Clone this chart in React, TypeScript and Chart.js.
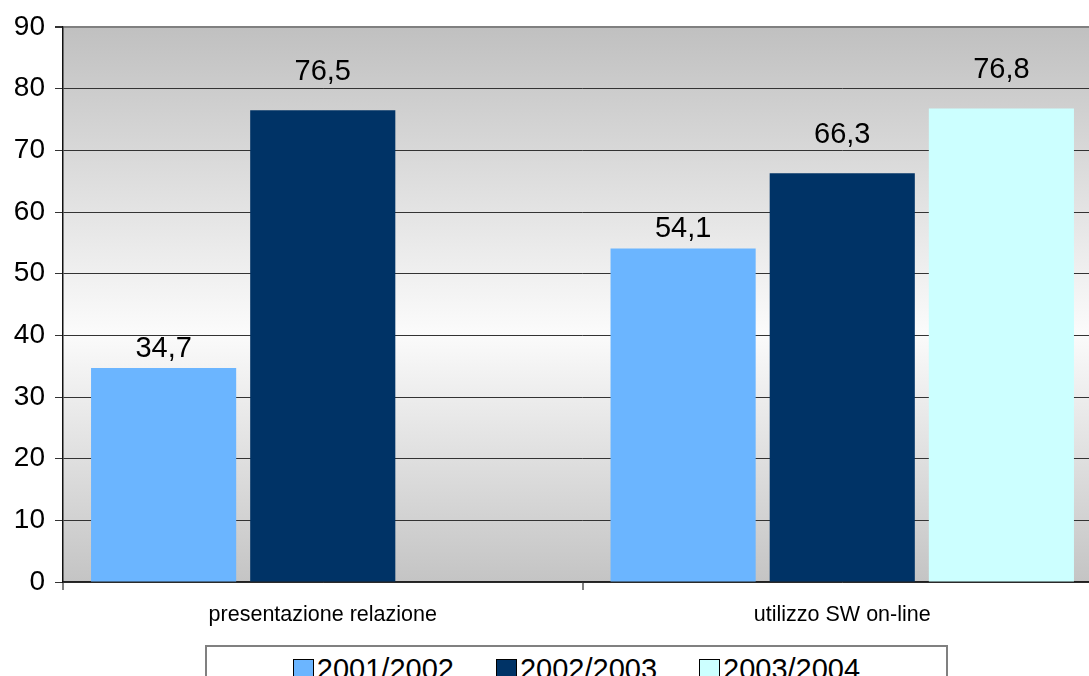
import React, { useEffect, useRef } from "react";
import { Chart, registerables } from "chart.js";

Chart.register(...registerables);

const categories = ["presentazione relazione", "utilizzo SW on-line"];
const seriesNames = ["2001/2002", "2002/2003", "2003/2004"];
const values2001 = [34.7, 54.1];
const values2002 = [76.5, 66.3];
const values2003: (number | null)[] = [null, 76.8];
const seriesColors = ["#6bb5ff", "#003366", "#ccffff"];
const labelOffsets = [19, 38, 38];
const yTicks = { min: 0, max: 90, step: 10 };

const FONT = "'Liberation Sans', Arial, sans-serif";

const fmt = (v: number) => v.toFixed(1).replace(".", ",");

const bgPlugin = {
  id: "bgGradient",
  beforeDraw(chart: any) {
    const { ctx, chartArea } = chart;
    if (!chartArea) return;
    const g = ctx.createLinearGradient(0, chartArea.top, 0, chartArea.bottom);
    g.addColorStop(0, "#c0c0c0");
    g.addColorStop(0.55, "#fbfbfb");
    g.addColorStop(1, "#c4c4c4");
    ctx.save();
    ctx.fillStyle = g;
    ctx.fillRect(chartArea.left, chartArea.top, chartArea.right - chartArea.left, chartArea.bottom - chartArea.top);
    ctx.restore();
  },
};

const labelPlugin = {
  id: "valueLabels",
  afterDatasetsDraw(chart: any) {
    const { ctx } = chart;
    ctx.save();
    ctx.font = `29px ${FONT}`;
    ctx.fillStyle = "#000";
    ctx.textAlign = "center";
    ctx.textBaseline = "middle";
    chart.data.datasets.forEach((ds: any, i: number) => {
      const meta = chart.getDatasetMeta(i);
      meta.data.forEach((el: any, j: number) => {
        const v = ds.data[j];
        if (v === null || v === undefined) return;
        ctx.fillText(fmt(v), el.x, el.y - labelOffsets[i]);
      });
    });
    ctx.restore();
  },
};

export default function App() {
  const ref = useRef<HTMLCanvasElement>(null);

  useEffect(() => {
    if (!ref.current) return;
    const chart = new Chart(ref.current, {
      type: "bar",
      data: {
        labels: categories,
        datasets: [
          { label: seriesNames[0], data: values2001, backgroundColor: seriesColors[0] },
          { label: seriesNames[1], data: values2002, backgroundColor: seriesColors[1] },
          { label: seriesNames[2], data: values2003, backgroundColor: seriesColors[2] },
        ],
      },
      options: {
        animation: false,
        responsive: false,
        devicePixelRatio: 1,
        layout: { padding: { top: 27, right: 8, left: 0, bottom: 0 } },
        datasets: {
          bar: { barPercentage: 0.912, categoryPercentage: 0.919 },
        },
        plugins: {
          legend: { display: false },
          tooltip: { enabled: false },
        },
        scales: {
          x: {
            grid: {
              offset: true,
              drawOnChartArea: false,
              drawTicks: true,
              tickLength: 8,
              tickColor: "#808080",
              lineWidth: 2,
            },
            border: { display: true, color: "#222", width: 1.5 },
            ticks: {
              font: { family: FONT, size: 21.5 },
              color: "#000",
              padding: 12,
              maxRotation: 0,
            },
            afterFit(scale: any) {
              scale.height = 94;
            },
          },
          y: {
            min: yTicks.min,
            max: yTicks.max,
            ticks: {
              stepSize: yTicks.step,
              font: { family: FONT, size: 28 },
              color: "#000",
              padding: 10,
            },
            grid: {
              color: (c: any) => (c.tick && c.tick.value === yTicks.max ? "#808080" : "#333"),
              lineWidth: (c: any) => (c.tick && c.tick.value === yTicks.max ? 2 : 1),
              tickColor: "#333",
              tickLength: 8,
            },
            border: { display: true, color: "#111", width: 1.5 },
            afterFit(scale: any) {
              scale.width = 63;
            },
          },
        },
      },
      plugins: [bgPlugin, labelPlugin],
    });
    return () => chart.destroy();
  }, []);

  return (
    <div
      style={{
        position: "fixed",
        left: 0,
        top: 0,
        width: 1089,
        height: 676,
        overflow: "hidden",
        background: "#fff",
      }}
    >
      <canvas ref={ref} width={1110} height={676} style={{ position: "absolute", left: 0, top: 0, width: 1110, height: 676 }} />
      <div
        style={{
          position: "absolute",
          left: 205,
          top: 645,
          width: 739,
          height: 60,
          border: "2px solid #808080",
          background: "#fff",
          display: "flex",
          justifyContent: "center",
          alignItems: "flex-start",
          paddingTop: 6,
          boxSizing: "content-box",
          gap: 42,
          fontFamily: FONT,
          fontSize: 29,
          color: "#000",
        }}
      >
        {seriesNames.map((name, i) => (
          <div key={name} style={{ display: "flex", alignItems: "center", gap: 3, lineHeight: "33px" }}>
            <span
              style={{
                display: "inline-block",
                width: 19,
                height: 19,
                background: seriesColors[i],
                border: "1.5px solid #000",
              }}
            />
            <span>{name}</span>
          </div>
        ))}
      </div>
    </div>
  );
}
